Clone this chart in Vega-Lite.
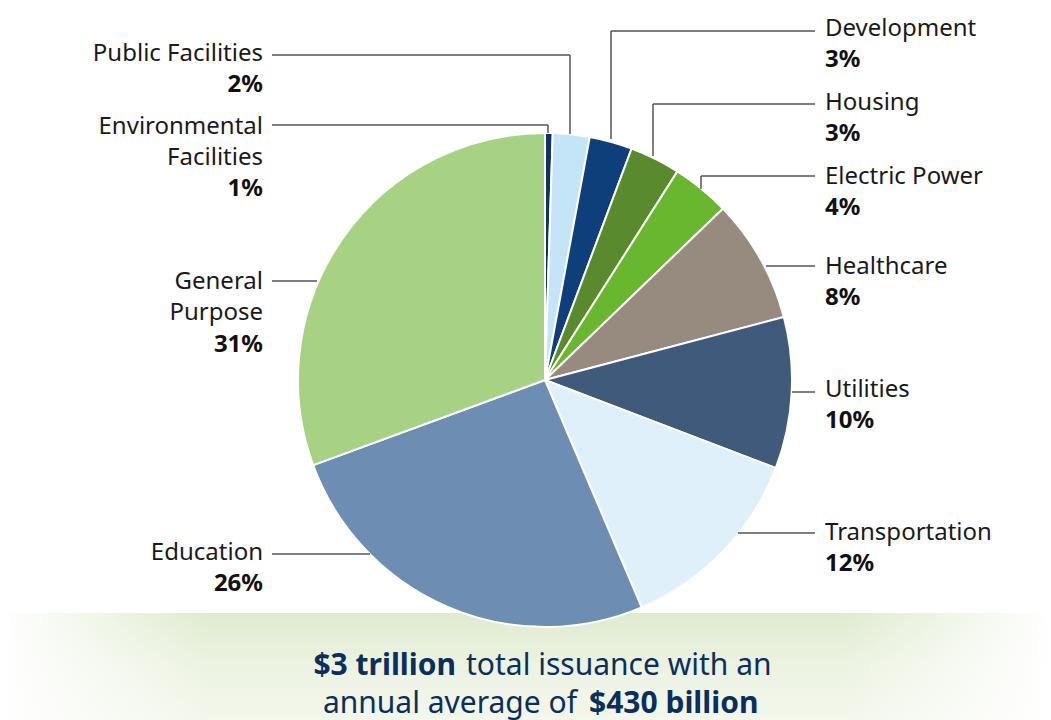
{
  "$schema": "https://vega.github.io/schema/vega-lite/v6.json",
  "autosize": {"type": "none"},
  "padding": {"left": 39, "top": 40, "right": 0, "bottom": 0},
  "width": 1012,
  "height": 680,
  "background": "white",
  "config": {"view": {"stroke": null}},
  "datasets": {
    "slices": [
      {"category": "Environmental Facilities", "share": 0.5, "order": 1},
      {"category": "Public Facilities", "share": 2.4, "order": 2},
      {"category": "Development", "share": 2.8, "order": 3},
      {"category": "Housing", "share": 3.3, "order": 4},
      {"category": "Electric Power", "share": 3.8, "order": 5},
      {"category": "Healthcare", "share": 8.1, "order": 6},
      {"category": "Utilities", "share": 9.9, "order": 7},
      {"category": "Transportation", "share": 12.8, "order": 8},
      {"category": "Education", "share": 25.8, "order": 9},
      {"category": "General Purpose", "share": 30.6, "order": 10}
    ],
    "labels": [
      {"text": "Public Facilities", "side": "left", "bold": false, "x": 263, "y": 54},
      {"text": "2%", "side": "left", "bold": true, "x": 263, "y": 85},
      {"text": "Environmental", "side": "left", "bold": false, "x": 263, "y": 127},
      {"text": "Facilities", "side": "left", "bold": false, "x": 263, "y": 158},
      {"text": "1%", "side": "left", "bold": true, "x": 263, "y": 189},
      {"text": "General", "side": "left", "bold": false, "x": 263, "y": 282},
      {"text": "Purpose", "side": "left", "bold": false, "x": 263, "y": 313},
      {"text": "31%", "side": "left", "bold": true, "x": 263, "y": 345},
      {"text": "Education", "side": "left", "bold": false, "x": 263, "y": 553},
      {"text": "26%", "side": "left", "bold": true, "x": 263, "y": 584},
      {"text": "Development", "side": "right", "bold": false, "x": 825, "y": 29},
      {"text": "3%", "side": "right", "bold": true, "x": 825, "y": 60},
      {"text": "Housing", "side": "right", "bold": false, "x": 825, "y": 103},
      {"text": "3%", "side": "right", "bold": true, "x": 825, "y": 134},
      {"text": "Electric Power", "side": "right", "bold": false, "x": 825, "y": 177},
      {"text": "4%", "side": "right", "bold": true, "x": 825, "y": 208},
      {"text": "Healthcare", "side": "right", "bold": false, "x": 825, "y": 267},
      {"text": "8%", "side": "right", "bold": true, "x": 825, "y": 298},
      {"text": "Utilities", "side": "right", "bold": false, "x": 825, "y": 390},
      {"text": "10%", "side": "right", "bold": true, "x": 825, "y": 421},
      {"text": "Transportation", "side": "right", "bold": false, "x": 825, "y": 533},
      {"text": "12%", "side": "right", "bold": true, "x": 825, "y": 564}
    ],
    "leaders": [
      {"x": 272, "y": 55, "x2": 570, "y2": 55},
      {"x": 570, "y": 55, "x2": 570, "y2": 134},
      {"x": 272, "y": 125, "x2": 548, "y2": 125},
      {"x": 548, "y": 125, "x2": 548, "y2": 133},
      {"x": 272, "y": 281, "x2": 317, "y2": 281},
      {"x": 272, "y": 554, "x2": 370, "y2": 554},
      {"x": 611, "y": 31, "x2": 815, "y2": 31},
      {"x": 611, "y": 31, "x2": 611, "y2": 139},
      {"x": 653, "y": 104, "x2": 815, "y2": 104},
      {"x": 653, "y": 104, "x2": 653, "y2": 156},
      {"x": 701, "y": 176, "x2": 815, "y2": 176},
      {"x": 701, "y": 176, "x2": 701, "y2": 189},
      {"x": 766, "y": 266, "x2": 815, "y2": 266},
      {"x": 792, "y": 392, "x2": 815, "y2": 392},
      {"x": 738, "y": 533, "x2": 815, "y2": 533}
    ],
    "banner": [{"x": 0, "x2": 1051, "y": 613, "y2": 720}],
    "footer": [
      {"text": "$3 trillion", "part": "b1", "x": 456, "y": 675},
      {"text": "total issuance with an", "part": "r1", "x": 466, "y": 675},
      {"text": "annual average of", "part": "r2", "x": 577, "y": 713},
      {"text": "$430 billion", "part": "b2", "x": 589, "y": 713}
    ]
  },
  "layer": [
    {
      "data": {"name": "banner"},
      "mark": {
        "type": "rect",
        "fill": {
          "gradient": "linear", "x1": 0, "y1": 0, "x2": 0, "y2": 1,
          "stops": [
            {"offset": 0, "color": "#dfebcf"},
            {"offset": 0.5, "color": "#ecf3e2"},
            {"offset": 1, "color": "#f3f7ec"}
          ]
        }
      },
      "encoding": {
        "x": {"field": "x", "type": "quantitative", "scale": {"domain": [39, 1051], "nice": false, "zero": false}, "axis": null},
        "x2": {"field": "x2"},
        "y": {"field": "y", "type": "quantitative", "scale": {"domain": [40, 720], "reverse": true, "nice": false, "zero": false}, "axis": null},
        "y2": {"field": "y2"}
      }
    },
    {
      "data": {"name": "banner"},
      "mark": {
        "type": "rect",
        "fill": {
          "gradient": "linear", "x1": 0, "y1": 0, "x2": 1, "y2": 0,
          "stops": [
            {"offset": 0, "color": "rgba(255,255,255,1)"},
            {"offset": 0.03, "color": "rgba(255,255,255,0.85)"},
            {"offset": 0.2, "color": "rgba(255,255,255,0)"},
            {"offset": 0.8, "color": "rgba(255,255,255,0)"},
            {"offset": 0.97, "color": "rgba(255,255,255,0.85)"},
            {"offset": 1, "color": "rgba(255,255,255,1)"}
          ]
        }
      },
      "encoding": {
        "x": {"field": "x", "type": "quantitative", "scale": {"domain": [39, 1051], "nice": false, "zero": false}, "axis": null},
        "x2": {"field": "x2"},
        "y": {"field": "y", "type": "quantitative", "scale": {"domain": [40, 720], "reverse": true, "nice": false, "zero": false}, "axis": null},
        "y2": {"field": "y2"}
      }
    },
    {
      "data": {"name": "slices"},
      "mark": {"type": "arc", "outerRadius": 247, "stroke": "white", "strokeWidth": 2},
      "encoding": {
        "theta": {"field": "share", "type": "quantitative", "stack": true},
        "order": {"field": "order", "type": "quantitative"},
        "color": {
          "field": "category", "type": "nominal", "legend": null,
          "scale": {
            "domain": ["Environmental Facilities", "Public Facilities", "Development", "Housing", "Electric Power", "Healthcare", "Utilities", "Transportation", "Education", "General Purpose"],
            "range": ["#0f3461", "#c4e5f8", "#0e3f7a", "#5a8a2e", "#69b72f", "#978a7f", "#3f5a7a", "#e0f0fa", "#6d8db3", "#a7d283"]
          }
        }
      }
    },
    {
      "data": {"name": "leaders"},
      "mark": {"type": "rule", "color": "#555555", "strokeWidth": 1.5},
      "encoding": {
        "x": {"field": "x", "type": "quantitative", "scale": {"domain": [39, 1051], "nice": false, "zero": false}, "axis": null},
        "x2": {"field": "x2"},
        "y": {"field": "y", "type": "quantitative", "scale": {"domain": [40, 720], "reverse": true, "nice": false, "zero": false}, "axis": null},
        "y2": {"field": "y2"}
      }
    },
    {
      "data": {"name": "labels"},
      "transform": [{"filter": "datum.side == 'left' && !datum.bold"}],
      "mark": {"type": "text", "align": "right", "baseline": "middle", "font": "Noto Sans", "fontSize": 24, "color": "#1a1a1a"},
      "encoding": {
        "x": {"field": "x", "type": "quantitative", "scale": {"domain": [39, 1051], "nice": false, "zero": false}, "axis": null},
        "y": {"field": "y", "type": "quantitative", "scale": {"domain": [40, 720], "reverse": true, "nice": false, "zero": false}, "axis": null},
        "text": {"field": "text"}
      }
    },
    {
      "data": {"name": "labels"},
      "transform": [{"filter": "datum.side == 'left' && datum.bold"}],
      "mark": {"type": "text", "align": "right", "baseline": "middle", "font": "Noto Sans", "fontSize": 24, "fontWeight": "bold", "color": "#111111"},
      "encoding": {
        "x": {"field": "x", "type": "quantitative", "scale": {"domain": [39, 1051], "nice": false, "zero": false}, "axis": null},
        "y": {"field": "y", "type": "quantitative", "scale": {"domain": [40, 720], "reverse": true, "nice": false, "zero": false}, "axis": null},
        "text": {"field": "text"}
      }
    },
    {
      "data": {"name": "labels"},
      "transform": [{"filter": "datum.side == 'right' && !datum.bold"}],
      "mark": {"type": "text", "align": "left", "baseline": "middle", "font": "Noto Sans", "fontSize": 24, "color": "#1a1a1a"},
      "encoding": {
        "x": {"field": "x", "type": "quantitative", "scale": {"domain": [39, 1051], "nice": false, "zero": false}, "axis": null},
        "y": {"field": "y", "type": "quantitative", "scale": {"domain": [40, 720], "reverse": true, "nice": false, "zero": false}, "axis": null},
        "text": {"field": "text"}
      }
    },
    {
      "data": {"name": "labels"},
      "transform": [{"filter": "datum.side == 'right' && datum.bold"}],
      "mark": {"type": "text", "align": "left", "baseline": "middle", "font": "Noto Sans", "fontSize": 24, "fontWeight": "bold", "color": "#111111"},
      "encoding": {
        "x": {"field": "x", "type": "quantitative", "scale": {"domain": [39, 1051], "nice": false, "zero": false}, "axis": null},
        "y": {"field": "y", "type": "quantitative", "scale": {"domain": [40, 720], "reverse": true, "nice": false, "zero": false}, "axis": null},
        "text": {"field": "text"}
      }
    },
    {
      "data": {"name": "footer"},
      "transform": [{"filter": "datum.part == 'b1'"}],
      "mark": {"type": "text", "align": "right", "baseline": "alphabetic", "font": "Noto Sans", "fontSize": 30, "fontWeight": "bold", "color": "#0b2f5c"},
      "encoding": {
        "x": {"field": "x", "type": "quantitative", "scale": {"domain": [39, 1051], "nice": false, "zero": false}, "axis": null},
        "y": {"field": "y", "type": "quantitative", "scale": {"domain": [40, 720], "reverse": true, "nice": false, "zero": false}, "axis": null},
        "text": {"field": "text"}
      }
    },
    {
      "data": {"name": "footer"},
      "transform": [{"filter": "datum.part == 'r1'"}],
      "mark": {"type": "text", "align": "left", "baseline": "alphabetic", "font": "Noto Sans", "fontSize": 30, "color": "#0b2f5c"},
      "encoding": {
        "x": {"field": "x", "type": "quantitative", "scale": {"domain": [39, 1051], "nice": false, "zero": false}, "axis": null},
        "y": {"field": "y", "type": "quantitative", "scale": {"domain": [40, 720], "reverse": true, "nice": false, "zero": false}, "axis": null},
        "text": {"field": "text"}
      }
    },
    {
      "data": {"name": "footer"},
      "transform": [{"filter": "datum.part == 'r2'"}],
      "mark": {"type": "text", "align": "right", "baseline": "alphabetic", "font": "Noto Sans", "fontSize": 30, "color": "#0b2f5c"},
      "encoding": {
        "x": {"field": "x", "type": "quantitative", "scale": {"domain": [39, 1051], "nice": false, "zero": false}, "axis": null},
        "y": {"field": "y", "type": "quantitative", "scale": {"domain": [40, 720], "reverse": true, "nice": false, "zero": false}, "axis": null},
        "text": {"field": "text"}
      }
    },
    {
      "data": {"name": "footer"},
      "transform": [{"filter": "datum.part == 'b2'"}],
      "mark": {"type": "text", "align": "left", "baseline": "alphabetic", "font": "Noto Sans", "fontSize": 30, "fontWeight": "bold", "color": "#0b2f5c"},
      "encoding": {
        "x": {"field": "x", "type": "quantitative", "scale": {"domain": [39, 1051], "nice": false, "zero": false}, "axis": null},
        "y": {"field": "y", "type": "quantitative", "scale": {"domain": [40, 720], "reverse": true, "nice": false, "zero": false}, "axis": null},
        "text": {"field": "text"}
      }
    }
  ]
}
